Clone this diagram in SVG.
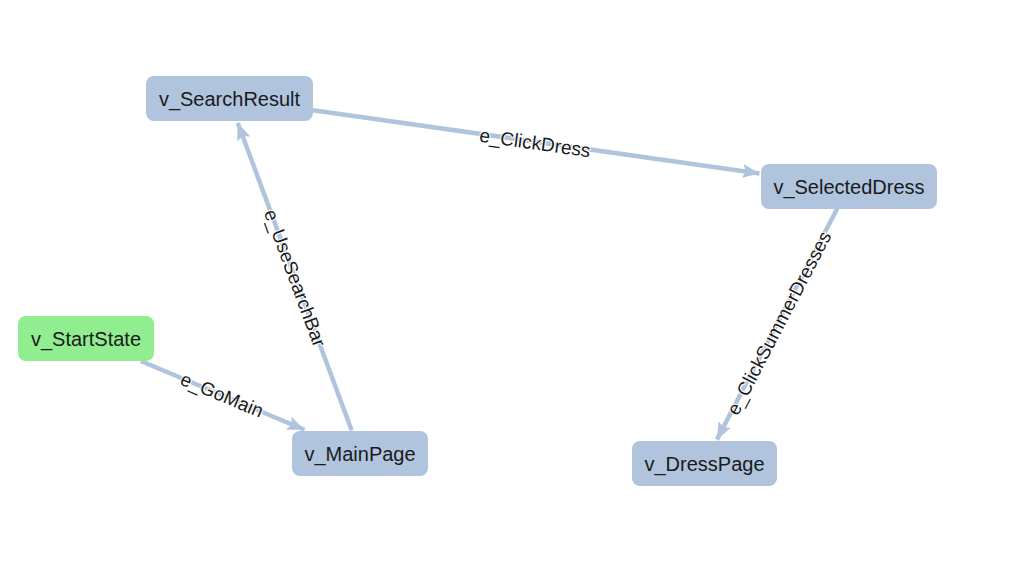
<svg xmlns="http://www.w3.org/2000/svg" width="1015" height="573" viewBox="0 0 1015 573">
<style>
.node rect{fill:#b0c4de;}
.node.start rect{fill:#90ee90;}
.node text{font-family:"Liberation Sans",Arial,sans-serif;font-size:20px;fill:#1a1a1a;text-anchor:middle;dominant-baseline:central;}
.edge{stroke:#b0c4de;stroke-width:4.5;fill:none;}
.elabel{font-family:"Liberation Sans",Arial,sans-serif;font-size:19px;fill:#1a1a1a;text-anchor:middle;dominant-baseline:central;stroke:#fff;stroke-width:2;paint-order:stroke;}
</style>
<defs>
<marker id="arrow" markerUnits="userSpaceOnUse" markerWidth="20" markerHeight="16" refX="17" refY="8" orient="auto">
<path d="M0,1 L17,8 L0,15 L3,8 Z" fill="#b0c4de"/>
</marker>
</defs>
<rect width="1015" height="573" fill="#fff"/>
<g id="connectors">
<g id="e_GoMain">
<line class="edge" x1="140.8" y1="361" x2="304.5" y2="429.8" marker-end="url(#arrow)"/>
<text class="elabel" x="222" y="395" transform="rotate(22.77 222 395)">e_GoMain</text>
</g>
<g id="e_UseSearchBar">
<line class="edge" x1="351.7" y1="430.5" x2="237.8" y2="123" marker-end="url(#arrow)"/>
<text class="elabel" x="295" y="278" transform="rotate(69.7 295 278)">e_UseSearchBar</text>
</g>
<g id="e_ClickDress">
<line class="edge" x1="313" y1="110.3" x2="759.5" y2="173.4" marker-end="url(#arrow)"/>
<text class="elabel" x="535" y="143" transform="rotate(8.04 535 143)">e_ClickDress</text>
</g>
<g id="e_ClickSummerDresses">
<line class="edge" x1="837.3" y1="208.5" x2="716.9" y2="439.6" marker-end="url(#arrow)"/>
<text class="elabel" x="779" y="323" transform="rotate(-62.5 779 323)">e_ClickSummerDresses</text>
</g>
</g>
<g id="v_SearchResult" class="node"><rect x="146" y="76" width="167" height="45" rx="8"/><text x="229.5" y="98.5">v_SearchResult</text></g>
<g id="v_SelectedDress" class="node"><rect x="761" y="164" width="176" height="45" rx="8"/><text x="849" y="186.5">v_SelectedDress</text></g>
<g id="v_StartState" class="node start"><rect x="18" y="316" width="136" height="45" rx="8"/><text x="86" y="338.5">v_StartState</text></g>
<g id="v_MainPage" class="node"><rect x="292" y="431" width="136" height="45" rx="8"/><text x="360" y="453.5">v_MainPage</text></g>
<g id="v_DressPage" class="node"><rect x="632" y="441" width="145" height="45" rx="8"/><text x="704.5" y="463.5">v_DressPage</text></g>
</svg>
